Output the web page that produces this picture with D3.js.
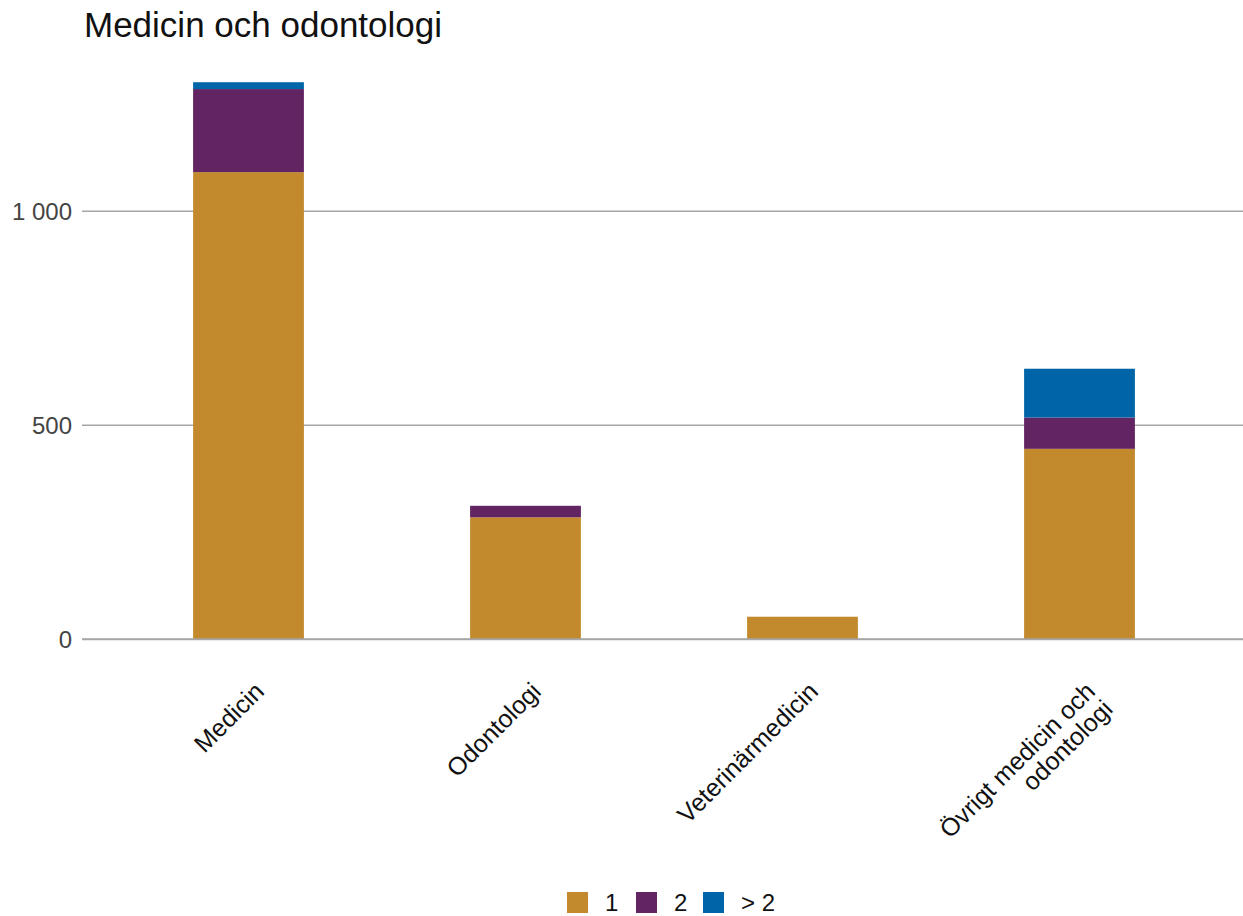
<!DOCTYPE html>
<html>
<head>
<meta charset="utf-8">
<script src="https://cdn.jsdelivr.net/npm/d3@7"></script>
<style>
  html, body { margin: 0; padding: 0; background: #fff; }
  svg { display: block; font-family: "Liberation Sans", Arial, sans-serif; }
</style>
</head>
<body>
<svg id="chart" width="1243" height="916"></svg>
<script>
// Categories (x axis) and stacked series values
const categories = ["Medicin", "Odontologi", "Veterinärmedicin", "Övrigt medicin och odontologi"];
const categoryLines = [["Medicin"], ["Odontologi"], ["Veterinärmedicin"], ["Övrigt medicin och", "odontologi"]];
const seriesNames = ["1", "2", "> 2"];
const series1 = [1090, 284, 52, 444];
const series2 = [194, 27, 0, 73];
const series3 = [16, 0, 0, 114];
const seriesColors = ["#c28a2c", "#622462", "#0065a8"];
const yTicks = [0, 500, 1000];

const svg = d3.select("#chart");

const rows = categories.map((c, i) => ({ cat: c, "1": series1[i], "2": series2[i], "> 2": series3[i] }));
const stacked = d3.stack().keys(seriesNames)(rows);

const x = d3.scaleBand().domain(categories).range([110, 1218]).paddingInner(0.6).paddingOuter(0.3);
const y = d3.scaleLinear().domain([0, 1400]).range([639, 639 - 1400 * 0.4283]);

// Title
svg.append("text")
  .attr("x", 84).attr("y", 37)
  .attr("font-size", 35).attr("fill", "#111")
  .text("Medicin och odontologi");

// Gridlines and y tick labels
const yAxis = d3.axisLeft(y).tickValues(yTicks).tickSize(-(1243 - 82))
  .tickFormat(d => d3.format(",")(d).replace(/,/g, " "));
const gy = svg.append("g").attr("transform", "translate(82,0)").call(yAxis);
gy.select(".domain").remove();
gy.selectAll(".tick line").attr("stroke", "#a6a6a6").attr("stroke-width", 1.5);
gy.selectAll(".tick text").attr("x", -10).attr("dy", "0.35em")
  .attr("font-size", 24).attr("fill", "#444").attr("font-family", "Liberation Sans, Arial, sans-serif");

// Stacked bars
svg.append("g").selectAll("g").data(stacked).join("g")
  .attr("fill", (d, i) => seriesColors[i])
  .selectAll("rect").data(d => d.filter(s => s[1] - s[0] > 0)).join("rect")
  .attr("x", d => x(d.data.cat))
  .attr("width", x.bandwidth())
  .attr("y", d => y(d[1]))
  .attr("height", d => y(d[0]) - y(d[1]));

// Redraw zero baseline on top of bars
svg.append("line")
  .attr("x1", 82).attr("x2", 1243).attr("y1", y(0)).attr("y2", y(0))
  .attr("stroke", "#a6a6a6").attr("stroke-width", 1.5);

// Rotated category labels
const lineH = 25;
const xl = svg.append("g");
categories.forEach((c, i) => {
  const cx = x(c) + x.bandwidth() / 2;
  const t = xl.append("text")
    .attr("transform", `translate(${cx + 17},${693}) rotate(-45)`)
    .attr("text-anchor", "end").attr("font-size", 25).attr("fill", "#111");
  categoryLines[i].forEach((ln, j) => {
    t.append("tspan").attr("x", 0).attr("y", j * lineH).text(ln);
  });
});

// Legend
const legendX = [567, 636, 703];
const lg = svg.append("g");
seriesNames.forEach((s, i) => {
  lg.append("rect").attr("x", legendX[i]).attr("y", 892).attr("width", 21).attr("height", 21)
    .attr("fill", seriesColors[i]);
  lg.append("text").attr("x", legendX[i] + 38).attr("y", 911)
    .attr("font-size", 24).attr("fill", "#111").text(s);
});
</script>
</body>
</html>
